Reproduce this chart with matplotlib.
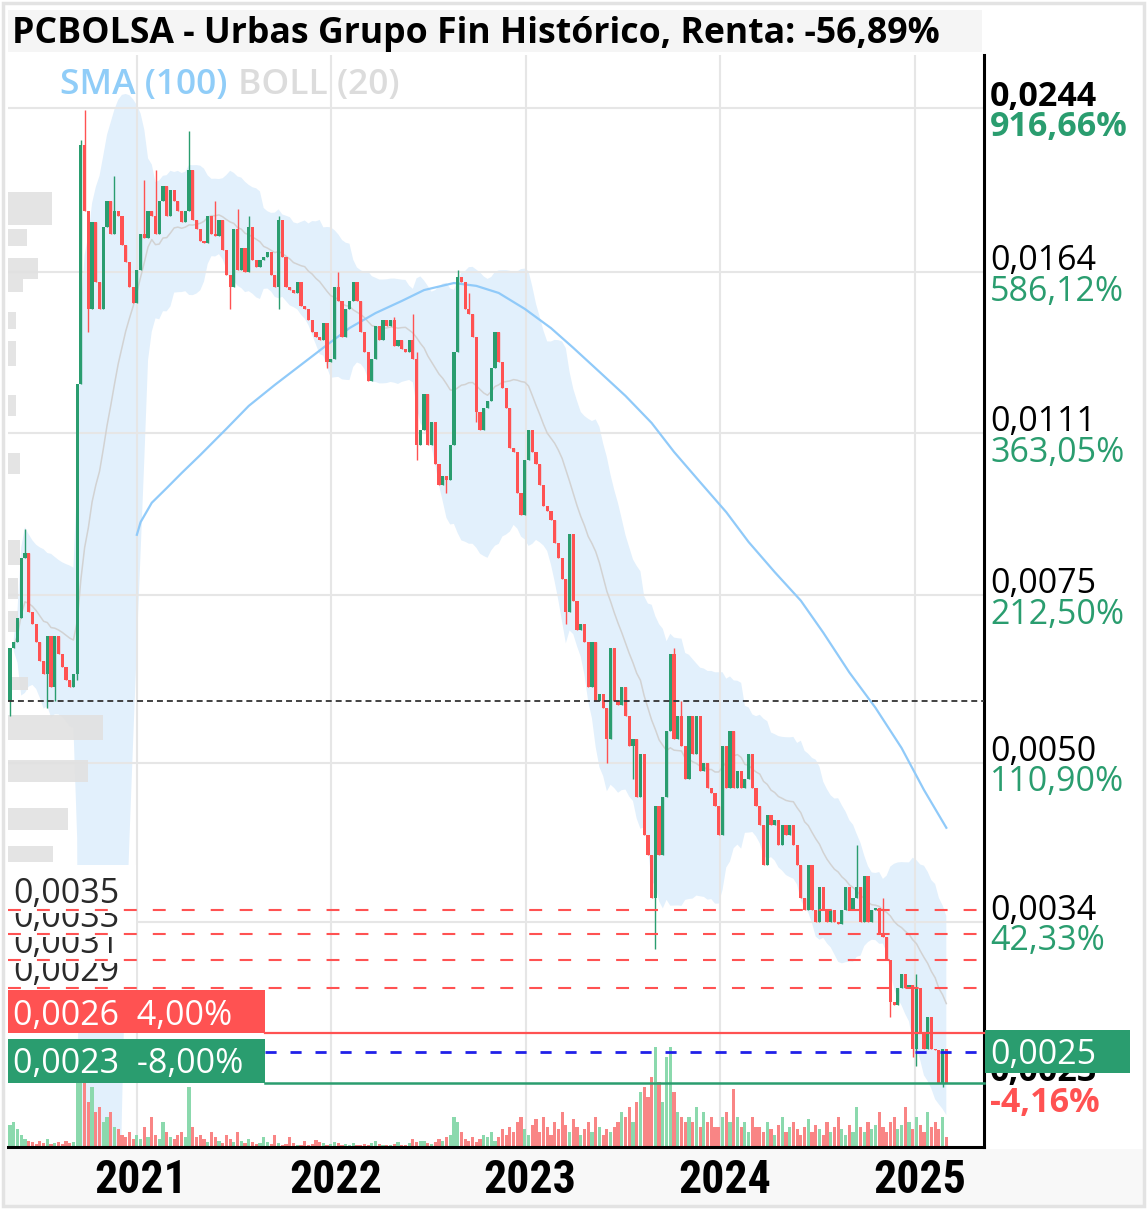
import numpy as np
import pandas as pd
import matplotlib
matplotlib.use('Agg')
import matplotlib.pyplot as plt
import matplotlib.dates as mdates
from matplotlib.patches import Rectangle
from matplotlib.ticker import NullLocator
from matplotlib.transforms import ScaledTranslation

plt.rcParams['font.family'] = ['Open Sans', 'DejaVu Sans']

W, H = 1148, 1210
GREEN = '#2a9d6f'
RED = '#ff5252'
VGREEN = '#8bd9ad'
VRED = '#f98585'

# weekly candles, prices in 1e-5 EUR (open = previous close)
first_open = 580
closes = [
    660, 670, 710, 820, 830, 720, 700, 670, 640, 620,
    680, 600, 680, 650, 630, 610, 600, 620, 1250, 2230,
    1900, 1500, 1850, 1600, 1500, 1830, 1950, 1800, 1900, 1880,
    1750, 1680, 1580, 1520, 1650, 1800, 1780, 1900, 1880, 1800,
    1950, 2020, 1880, 2000, 1950, 1900, 1850, 1900, 2100, 1860,
    1820, 1770, 1760, 1880, 1800, 1790, 1860, 1730, 1630, 1580,
    1820, 1650, 1740, 1640, 1830, 1690, 1660, 1690, 1700, 1720,
    1630, 1580, 1860, 1700, 1580, 1570, 1560, 1600, 1510, 1500,
    1460, 1420, 1400, 1390, 1450, 1320, 1330, 1580, 1530, 1400,
    1500, 1530, 1600, 1530, 1420, 1350, 1260, 1330, 1440, 1390,
    1460, 1440, 1460, 1370, 1390, 1360, 1350, 1390, 1330, 1080,
    1120, 1220, 1080, 1140, 1030, 980, 1000, 990, 1080, 1350,
    1620, 1600, 1500, 1480, 1400, 1170, 1120, 1180, 1200, 1300,
    1420, 1320, 1240, 1180, 1070, 1060, 960, 910, 1040, 1120,
    1060, 1030, 980, 930, 920, 900, 850, 820, 780, 720,
    870, 740, 690, 700, 670, 600, 670, 580, 590, 570,
    530, 660, 580, 575, 600, 560, 520, 530, 460, 510,
    420, 400, 360, 450, 400, 460, 540, 650, 530, 560,
    520, 480, 560, 510, 560, 490, 500, 470, 465, 450,
    420, 520, 470, 540, 470, 490, 470, 480, 510, 470,
    450, 430, 390, 440, 430, 435, 410, 430, 420, 430,
    410, 390, 360, 350, 390, 350, 340, 370, 350, 340,
    350, 340, 338, 350, 370, 350, 360, 370, 340, 380,
    340, 350, 352, 330, 328, 310, 280, 278, 290, 300,
    290, 292, 250, 290, 260, 250, 270, 250, 249, 230,
    250, 230,
]
# visible wicks
high_idx = [4, 13, 19, 20, 28, 36, 39, 48, 49, 55, 61, 64, 72, 88, 103, 108, 109, 120, 123, 178, 180, 227, 234, 243]
high_val = [880, 680, 2260, 2430, 2070, 2050, 2100, 2310, 2070, 1950, 1910, 1880, 1880, 1640, 1470, 1480, 1350, 1650, 1560, 660, 580, 410, 360, 300]
low_idx = [0, 10, 12, 18, 21, 59, 72, 85, 109, 117, 125, 149, 160, 167, 173, 175, 236, 242, 243, 250]
low_val = [560, 570, 580, 610, 1420, 1500, 1500, 1300, 1040, 960, 1140, 700, 500, 480, 318, 420, 270, 245, 240, 228]

# relative weekly volume
volumes = [
    22, 25, 18, 12, 8, 6, 5, 3, 6, 4,
    8, 3, 4, 5, 3, 6, 4, 5, 100, 90,
    70, 45, 60, 35, 40, 25, 30, 35, 20, 18,
    12, 10, 15, 8, 12, 8, 20, 10, 30, 12,
    8, 25, 15, 10, 8, 12, 15, 10, 60, 20,
    10, 12, 8, 5, 15, 10, 6, 4, 12, 8,
    5, 15, 6, 4, 8, 5, 3, 4, 10, 5,
    3, 12, 4, 2, 3, 10, 4, 2, 2, 6,
    2, 3, 7, 5, 4, 2, 3, 5, 4, 2,
    3, 2, 4, 2, 2, 3, 2, 4, 6, 3,
    2, 2, 2, 3, 5, 2, 2, 4, 8, 5,
    6, 6, 4, 3, 5, 8, 6, 10, 12, 30,
    25, 15, 8, 6, 10, 5, 8, 12, 10, 15,
    6, 10, 18, 12, 20, 15, 25, 30, 18, 12,
    22, 28, 15, 30, 20, 12, 25, 18, 35, 22,
    15, 28, 20, 12, 18, 25, 15, 30, 20, 12,
    18, 15, 20, 25, 35, 30, 40, 25, 45, 55,
    60, 50, 70, 100, 65, 45, 90, 100, 55, 35,
    30, 25, 30, 25, 40, 20, 35, 25, 30, 20,
    20, 30, 35, 25, 58, 30, 20, 25, 15, 30,
    20, 20, 15, 25, 18, 12, 22, 30, 15, 20,
    25, 18, 12, 20, 28, 15, 22, 18, 12, 25,
    15, 20, 30, 18, 12, 22, 15, 40, 20, 15,
    25, 18, 22, 35, 20, 15, 25, 30, 18, 22,
    40, 25, 18, 30, 22, 15, 35, 20, 25, 18,
    30, 10,
]
assert len(volumes) == len(closes)

# SMA(100) (week index, price 1e-5)
sma_week = [34, 35, 38, 42, 46, 51, 58, 64, 71, 78, 85, 91, 98, 105, 111, 119, 125, 131,
            138, 145, 151, 158, 165, 172, 178, 185, 192, 198, 205, 212, 218, 225, 232, 239, 245, 251]
sma_vals = [868, 895, 938, 972, 1008, 1053, 1122, 1186, 1248, 1310, 1375, 1432, 1485, 1529, 1570, 1597, 1586, 1559,
            1500, 1432, 1365, 1288, 1215, 1138, 1061, 986, 917, 853, 793, 740, 685, 622, 571, 518, 468, 427]

# volume profile (price band 1e-5, relative volume)
profile_lo = [1838, 1747, 1613, 1563, 1429, 1306, 1158, 1006, 807, 743, 686, 596, 528, 477, 425, 393]
profile_hi = [1991, 1820, 1697, 1613, 1489, 1388, 1218, 1058, 857, 782, 722, 615, 561, 503, 448, 409]
profile_vol = [44, 19, 30, 15, 8, 8, 8, 12, 12, 10, 10, 20, 95, 80, 60, 45]

tick_vals = [0.0244, 0.0164, 0.0111, 0.0075, 0.0050, 0.0034]
tick_pct = ['916,66%', '586,12%', '363,05%', '212,50%', '110,90%', '42,33%']
years = [2021, 2022, 2023, 2024, 2025]

start_price = 0.0058
resist = [0.0035, 0.0033, 0.0031, 0.0029]
target_hi, target_hi_pct = 0.0026, '4,00%'
target_lo, target_lo_pct = 0.0023, '-8,00%'
ref_price = 0.0025
last_price, last_pct = 0.0023, '-4,16%'
title = 'PCBOLSA - Urbas Grupo Fin Histórico, Renta: -56,89%'


def fmt(p):
    return f'{p:.4f}'.replace('.', ',')


S = 1e-5
c = np.array(closes) * S
o = np.r_[first_open * S, c[:-1]]
hi = np.maximum(o, c)
lo = np.minimum(o, c)
hi[high_idx] = np.maximum(hi[high_idx], np.array(high_val) * S)
lo[low_idx] = np.minimum(lo[low_idx], np.array(low_val) * S)
dates = pd.date_range('2020-05-08', periods=len(closes), freq='7D')
x = mdates.date2num(dates)
up = c >= o

s = pd.Series(c)
mid = s.rolling(20, min_periods=2).mean()
sd = s.rolling(20, min_periods=2).std(ddof=0)
upper = mid + 2 * sd
lower = (mid - 2 * sd).clip(lower=1e-4)

fig = plt.figure(figsize=(W / 100, H / 100), dpi=100)

# background (title bar, footer, border) in pixel coords
bg = fig.add_axes([0, 0, 1, 1], zorder=-1)
bg.set_xlim(0, W)
bg.set_ylim(H, 0)
bg.axis('off')
bg.add_patch(Rectangle((8, 10), 974, 42, color='#f5f5f5', lw=0))
bg.add_patch(Rectangle((4, 1149), 1140, 56, color='#f8f8f8', lw=0))
bg.add_patch(Rectangle((3, 3), 1141, 1203, fill=False, ec='#e3e3e3', lw=2.5))

ax = fig.add_axes([8 / W, 1 - 1147 / H, 976 / W, 1092 / H])
ax.set_yscale('log')
ax.set_ylim(0.001971, 0.02774)
ax.set_xlim(x[0] - 3.8, x[0] + 1827.7)
ax.yaxis.set_major_locator(NullLocator())
ax.yaxis.set_minor_locator(NullLocator())
for side in ['top', 'left']:
    ax.spines[side].set_visible(False)
for side in ['right', 'bottom']:
    ax.spines[side].set_color('black')
    ax.spines[side].set_linewidth(2.2)

# grid
for p in tick_vals:
    ax.axhline(p, color='#e6e6e6', lw=1.5, zorder=1.1)
year_x = [mdates.date2num(pd.Timestamp(f'{y}-01-01')) for y in years]
for xv in year_x:
    ax.axvline(xv, color='#e6e6e6', lw=1.5, zorder=1.1)

# bollinger
ax.fill_between(x, lower, upper, color='#e2f0fc', lw=0, zorder=1)
ax.plot(x, mid, color='#d2d2d2', lw=1.1, zorder=1.5)

# volume profile
ytr = ax.get_yaxis_transform()
pmax = max(profile_vol)
for a, b, v in zip(profile_lo, profile_hi, profile_vol):
    ax.add_patch(Rectangle((0, a * S), v / pmax * 95 / 976, (b - a) * S,
                           transform=ytr, color='#e1e1e1', alpha=0.9, lw=0, zorder=1.2))

# SMA
ax.plot(mdates.date2num(dates[sma_week]), np.array(sma_vals) * S,
        color='#90caf9', lw=1.6, zorder=2.5)

# candles
col = np.where(up, GREEN, RED)
ax.vlines(x, lo, hi, colors=col, lw=1.0, zorder=3)
ax.bar(x, np.abs(c - o), bottom=np.minimum(o, c), width=6.0, color=col, lw=0, zorder=3.1)

# volume
vax = ax.inset_axes([0, 0, 1, 100 / 1092])
vax.set_xlim(ax.get_xlim())
vax.set_ylim(0, max(volumes))
vax.bar(x, volumes, width=6.0, color=np.where(up, VGREEN, VRED), lw=0)
vax.axis('off')
vax.patch.set_alpha(0)
vax.set_zorder(2)

# x ticks
ax.set_xticks(year_x)
ax.set_xticklabels([str(y) for y in years])
ax.tick_params(axis='x', length=0, pad=8)
for lab in ax.get_xticklabels():
    lab.set_fontsize(33)
    lab.set_fontweight('bold')
    lab.set_fontstretch('condensed')
    lab.set_family(['Roboto Condensed', 'Open Sans', 'DejaVu Sans'])
    lab.set_transform(lab.get_transform() + ScaledTranslation(4 / 100, 0, fig.dpi_scale_trans))

# overlay in pixel coords
ov = fig.add_axes([0, 0, 1, 1], zorder=5)
ov.set_xlim(0, W)
ov.set_ylim(H, 0)
ov.axis('off')


def py(p):
    return H - ax.transData.transform((x[0], p))[1]


ov.text(12, 43, title, fontsize=25.7, fontweight='bold', va='baseline', ha='left')
ov.text(60, 94, 'SMA (100)', color='#90cdf8', fontsize=25.5, fontweight='semibold', va='baseline')
ov.text(238, 94, 'BOLL (20)', color='#dcdcdc', fontsize=25.5, fontweight='semibold', va='baseline')

# right axis labels
for i, (p, pct) in enumerate(zip(tick_vals, tick_pct)):
    w = 'bold' if i == 0 else 'normal'
    ov.text(990, py(p) - 2, fmt(p), fontsize=24.5, fontweight=w, va='baseline', color='black')
    ov.text(990, py(p) + 28.5, pct, fontsize=24.5, fontweight=w, va='baseline', color=GREEN)

ov.text(990, py(last_price) - 2, fmt(last_price), fontsize=24.5, fontweight='bold', va='baseline', zorder=3)
ov.text(990, py(last_price) + 28.5, last_pct, fontsize=24.5, fontweight='bold', va='baseline', color=RED, zorder=3)
yb = py(ref_price) + 3
ov.add_patch(Rectangle((985, yb - 21.5), 145, 43, color=GREEN, lw=0, zorder=4))
ov.text(990, yb + 12, fmt(ref_price), fontsize=24.5, color='white', va='baseline', zorder=5)

# resistance labels on the left
for k, p in enumerate(sorted(resist)):
    yl = py(p)
    ov.add_patch(Rectangle((8, yl - 45), 128, 48, color='white', lw=0, zorder=2 + k))
    ov.text(13, yl - 7, fmt(p), fontsize=24.5, color='#2a2a2a', va='baseline', zorder=2 + k)

for p in resist:
    ov.plot([8, 984], [py(p)] * 2, color=RED, lw=1.5, dashes=[6.2, 7.7], zorder=10)

# start price
ov.plot([8, 984], [py(start_price)] * 2, color='#333333', lw=1.3, dashes=[3.3, 2.2], zorder=10)

# target boxes
yh = py(target_hi)
ov.add_patch(Rectangle((8, yh - 43), 257, 43, color=RED, lw=0, zorder=8))
ov.text(13, yh - 8, f'{fmt(target_hi)}  {target_hi_pct}', color='white', fontsize=24.5, va='baseline', zorder=9)
ov.plot([265, 984], [yh, yh], color=RED, lw=1.6, zorder=10)

yl = py(target_lo)
ov.add_patch(Rectangle((8, yl - 44), 257, 44, color=GREEN, lw=0, zorder=8))
ov.text(13, yl - 10, f'{fmt(target_lo)}  {target_lo_pct}', color='white', fontsize=24.5, va='baseline', zorder=9)
ov.plot([265, 984], [yl, yl], color=GREEN, lw=1.8, zorder=10)

ov.plot([265, 984], [py(ref_price) + 3] * 2, color='#2020e8', lw=2, dashes=[4, 5], zorder=10)

fig.savefig('out.png', dpi=100)
